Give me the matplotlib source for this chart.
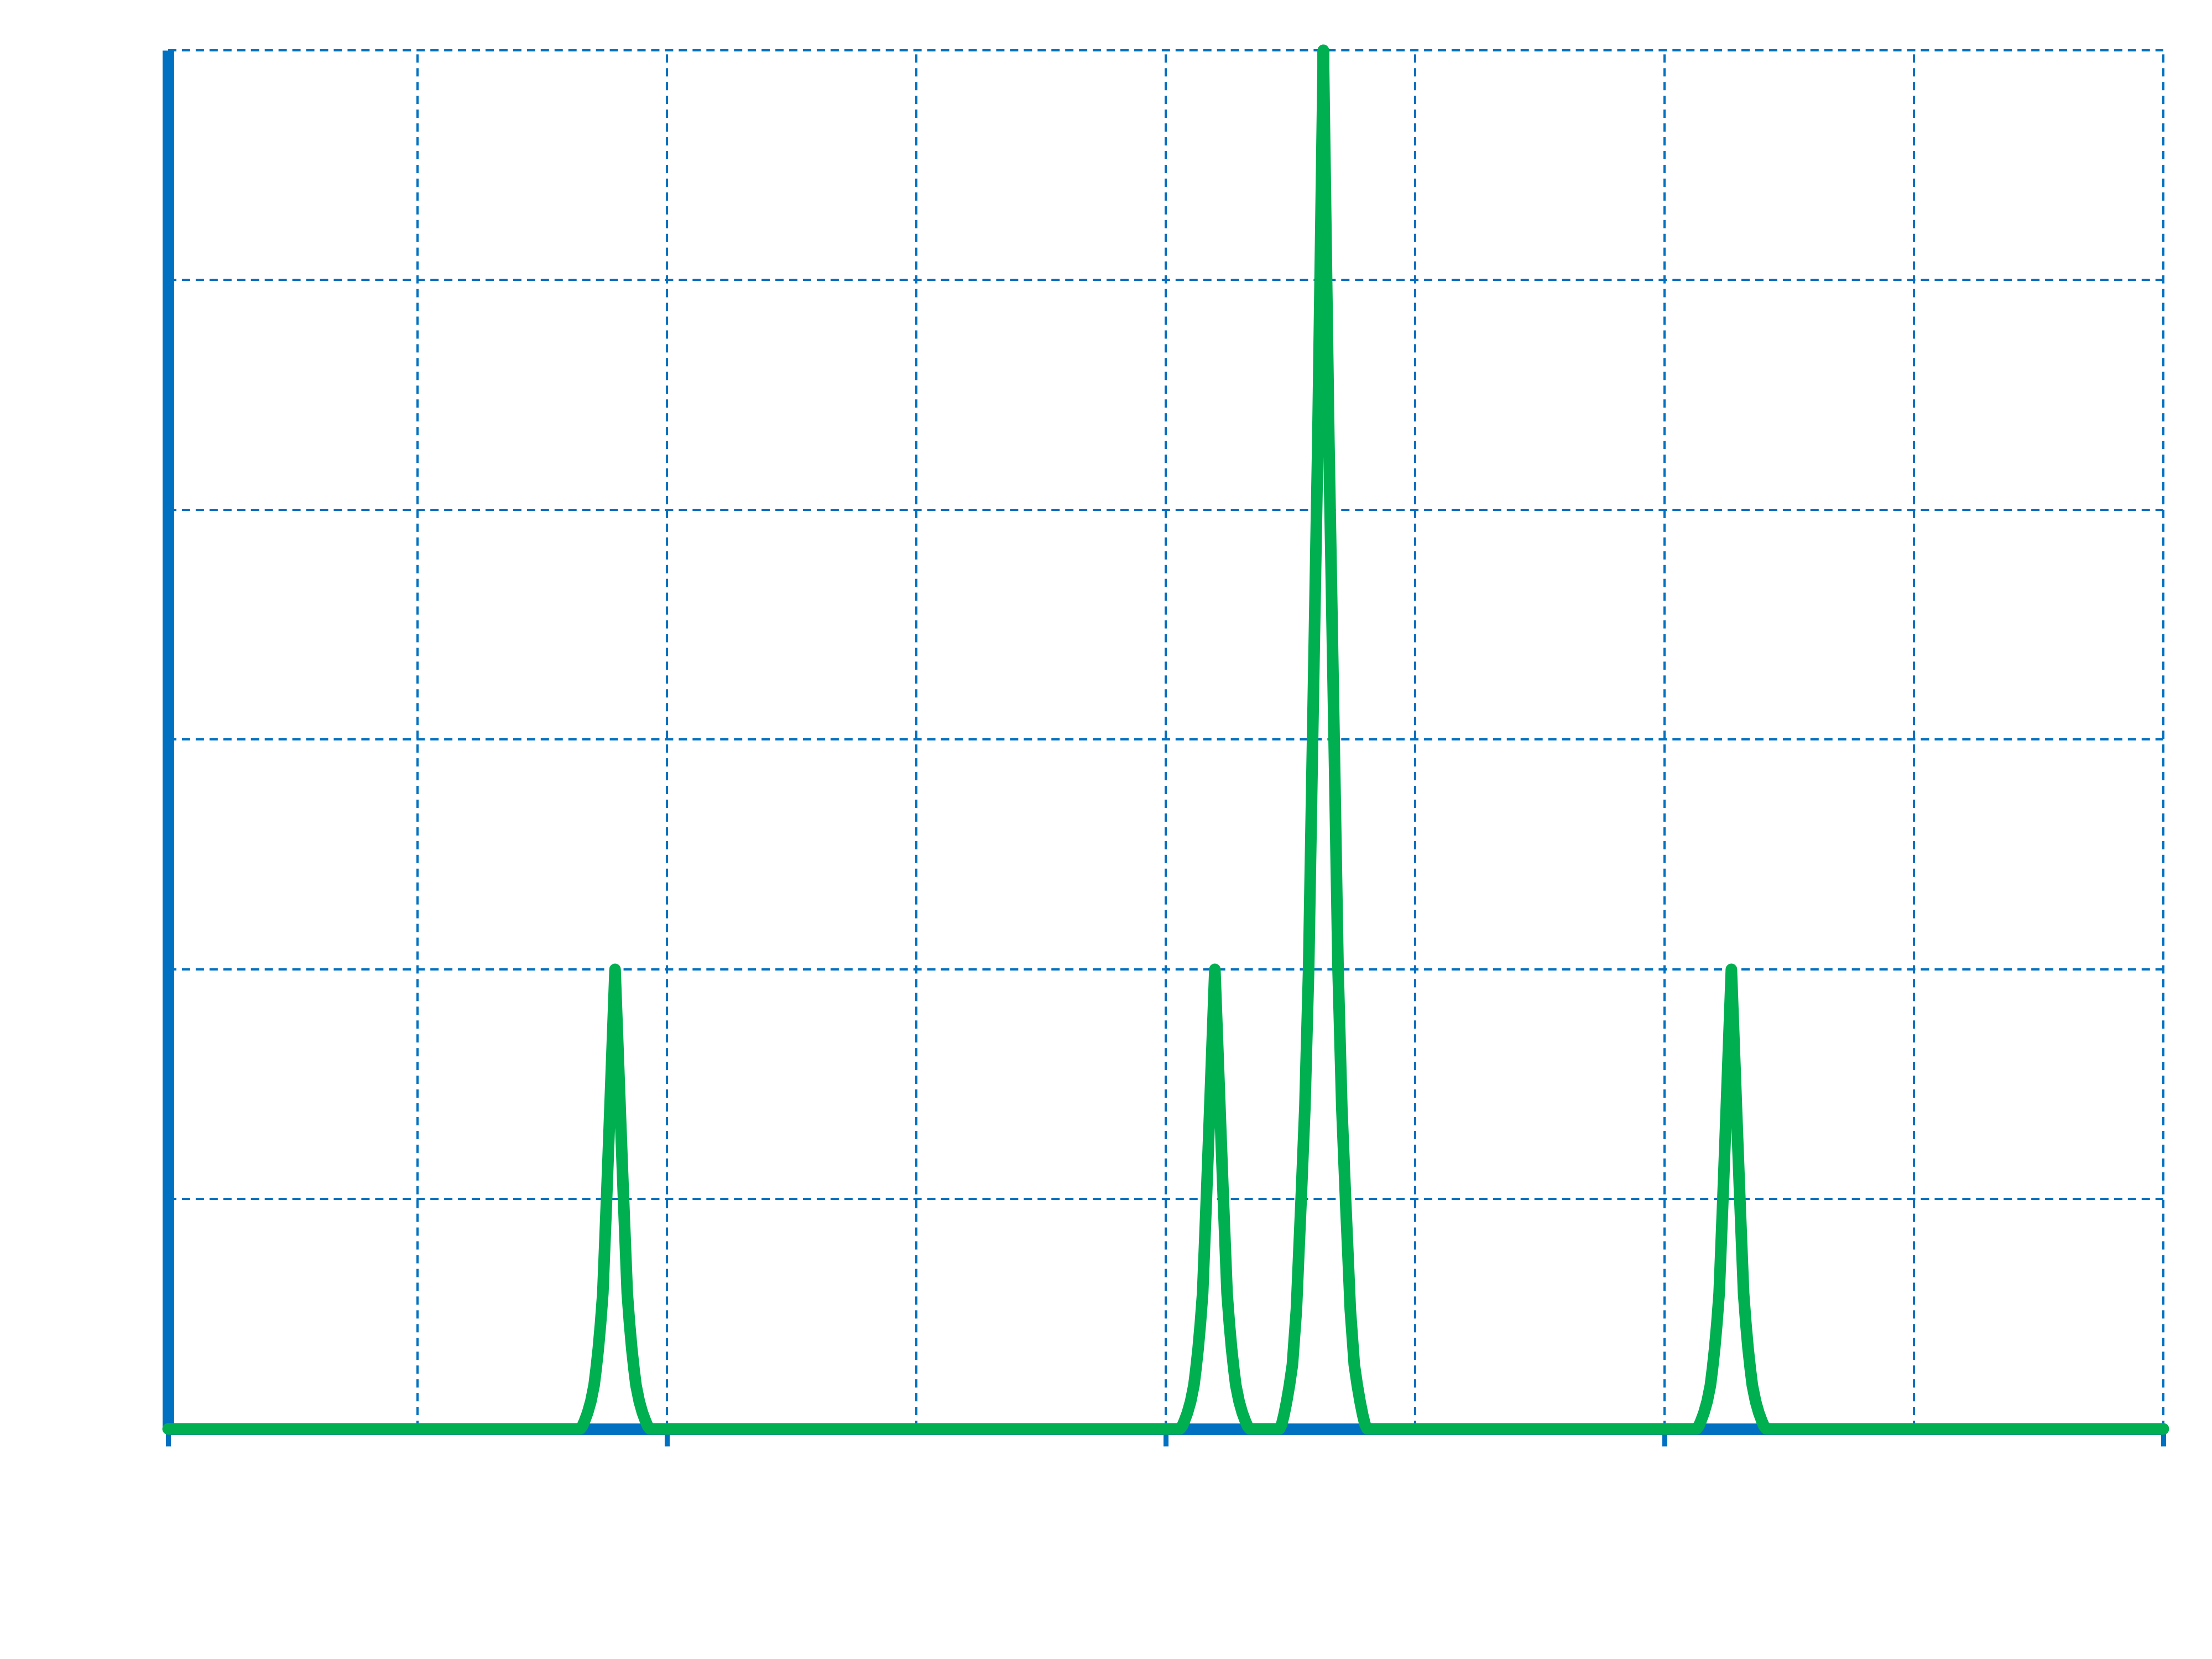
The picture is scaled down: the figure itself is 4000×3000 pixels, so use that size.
import matplotlib
matplotlib.use('Agg')
import matplotlib.pyplot as plt

# Colours (Office-like blue and green)
BLUE = '#0070C0'
GREEN = '#00B050'

# Axis ranges and ticks
x_limits = [0, 8]
y_limits = [0, 6]
x_major_ticks = [0, 2, 4, 6, 8]
x_minor_ticks = [1, 3, 5, 7]
y_ticks = [0, 1, 2, 3, 4, 5, 6]

# Three narrow peaks of height 2 (same profile)
small_peak_centres = [1.792, 4.197, 6.268]
small_offsets = [0.0, 0.024, 0.034, 0.042, 0.049, 0.058, 0.067, 0.076,
                 0.084, 0.097, 0.110, 0.122, 0.131, 0.140]
small_values = [2.0, 1.29, 1.0, 0.78, 0.59, 0.46, 0.35, 0.26,
                0.19, 0.12, 0.07, 0.035, 0.012, 0.0]

# One tall peak of height 6
big_peak_centre = 4.632
big_offsets = [0.0, 0.022, 0.034, 0.044, 0.059, 0.074, 0.089, 0.099,
               0.108, 0.116, 0.124, 0.136, 0.147, 0.158, 0.167, 0.176]
big_values = [6.0, 4.31, 3.57, 2.95, 2.0, 1.4, 1.0, 0.75,
              0.52, 0.40, 0.28, 0.19, 0.12, 0.06, 0.02, 0.0]


def peak_points(centre, offsets, values):
    # profiles are symmetric: mirror the right half to the left
    pts = [(centre + d, v) for d, v in zip(offsets, values)]
    pts += [(centre - d, v) for d, v in zip(offsets[1:], values[1:])]
    return pts


def build_curve():
    pts = [(x_limits[0], 0.0), (x_limits[1], 0.0)]
    for c in small_peak_centres:
        pts += peak_points(c, small_offsets, small_values)
    pts += peak_points(big_peak_centre, big_offsets, big_values)
    pts.sort()
    xs = [p[0] for p in pts]
    ys = [p[1] for p in pts]
    return xs, ys


def main():
    fig = plt.figure(figsize=(16, 12), dpi=250)
    ax = fig.add_axes([0.076, 0.1387, 0.902, 0.831])

    xs, ys = build_curve()
    ax.plot(xs, ys, color=GREEN, lw=6.05, solid_capstyle='round',
            solid_joinstyle='round', clip_on=False, zorder=4)

    ax.set_xlim(*x_limits)
    ax.set_ylim(*y_limits)
    ax.set_xticks(x_major_ticks)
    ax.set_xticks(x_minor_ticks, minor=True)
    ax.set_yticks(y_ticks)
    ax.set_xticklabels([])
    ax.set_yticklabels([])

    grid_style = dict(color=BLUE, linewidth=1.15, linestyle=(0, (3.75, 2.5)))
    ax.set_axisbelow(True)
    ax.grid(True, which='both', axis='x', **grid_style)
    ax.grid(True, which='major', axis='y', **grid_style)
    for t in ax.xaxis.get_major_ticks() + ax.yaxis.get_major_ticks():
        t.gridline.set_clip_on(False)

    ax.tick_params(axis='x', which='major', direction='out', length=8.9,
                   width=2.6, color=BLUE)
    ax.tick_params(axis='x', which='minor', length=0)
    ax.tick_params(axis='y', which='both', length=0)

    for side in ['top', 'right']:
        ax.spines[side].set_visible(False)
    for side in ['left', 'bottom']:
        ax.spines[side].set_color(BLUE)
        ax.spines[side].set_linewidth(6.0)
        ax.spines[side].set_capstyle('butt')

    fig.savefig('out.png', dpi=250, facecolor='white')


if __name__ == '__main__':
    main()
